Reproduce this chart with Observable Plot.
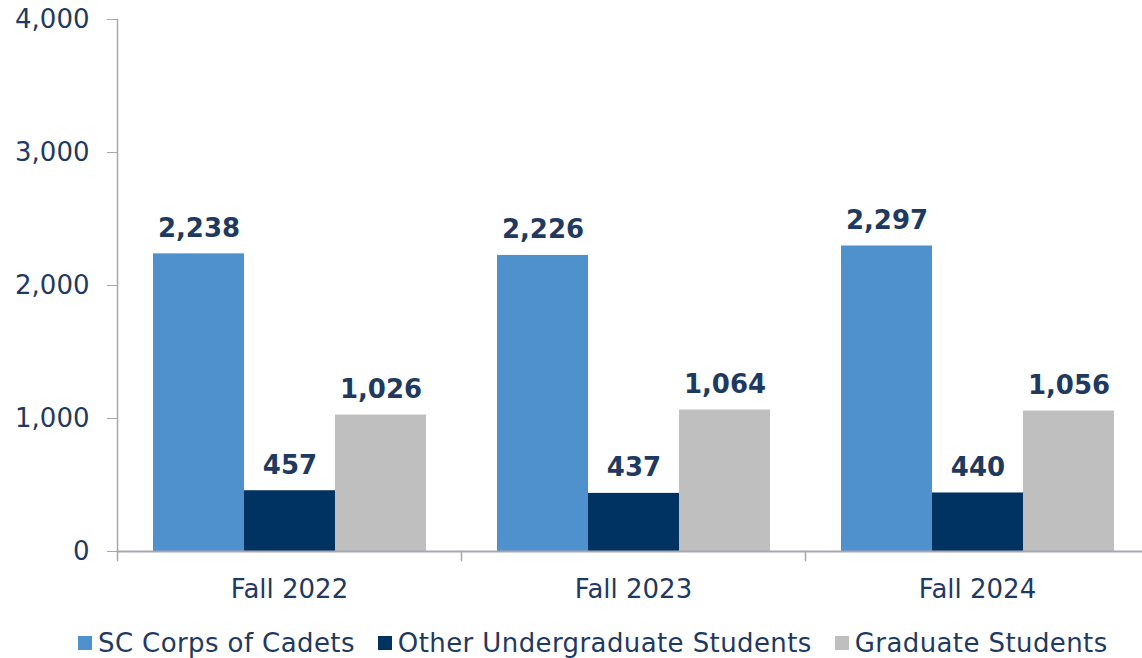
<!DOCTYPE html>
<html>
<head>
<meta charset="utf-8">
<script src="https://cdn.jsdelivr.net/npm/d3@7"></script>
<script src="https://cdn.jsdelivr.net/npm/@observablehq/plot@0.6"></script>
<style>
  html, body { margin: 0; padding: 0; background: #ffffff; overflow: hidden; }
  #chart { width: 1142px; overflow: hidden; }
  #chart svg { max-width: none !important; }
  .legend { display: flex; align-items: center; height: 66px; padding-left: 78px;
            font-family: "DejaVu Sans", Verdana, sans-serif; font-size: 26px; letter-spacing: 0.4px;
            color: #1F3A60; white-space: nowrap; }
  .legend .item { display: flex; align-items: center; margin-right: 23px; }
  .legend .sw { width: 14px; height: 14px; margin-right: 6px; display: inline-block; }
</style>
</head>
<body>
<div id="chart"></div>
<script>
const groups = ["Fall 2022", "Fall 2023", "Fall 2024"];
const series = ["SC Corps of Cadets", "Other Undergraduate Students", "Graduate Students"];
const cadets = [2238, 2226, 2297];
const otherUndergrad = [457, 437, 440];
const graduate = [1026, 1064, 1056];
const seriesColors = ["#4F91CD", "#003262", "#BFBFBF"];
const yTicks = [0, 1000, 2000, 3000, 4000];

const valuesBySeries = [cadets, otherUndergrad, graduate];
const data = [];
groups.forEach((g, gi) => {
  series.forEach((s, si) => {
    data.push({group: g, series: s, value: valuesBySeries[si][gi]});
  });
});

const textColor = "#1F3A60";
const axisGray = "#A7A7B2";
const fmt = d3.format(",");

const plot = Plot.plot({
  width: 1149,
  height: 610,
  marginLeft: 117,
  marginRight: 0,
  marginTop: 19,
  marginBottom: 59,
  style: {fontFamily: "DejaVu Sans, Verdana, sans-serif", fontSize: "26px", color: textColor, background: "white", maxWidth: "none"},
  fx: {domain: groups, padding: 0, label: null},
  x: {domain: series, paddingInner: 0, paddingOuter: 0.38, axis: null},
  y: {domain: [0, 4000], label: null},
  color: {domain: series, range: seriesColors},
  marks: [
    Plot.barY(data, {fx: "group", x: "series", y: "value", fill: "series"}),
    Plot.ruleY([0], {stroke: axisGray, strokeWidth: 2}),
    Plot.frame({anchor: "left", facetAnchor: "left", stroke: axisGray, strokeWidth: 1.5}),
    Plot.frame({anchor: "left", insetTop: 532, insetBottom: -9, stroke: axisGray, strokeWidth: 1.5}),
    Plot.axisY({ticks: yTicks, tickSize: 10, tickPadding: 18, tickFormat: fmt, stroke: axisGray, label: null}),
    Plot.axisFx({anchor: "bottom", tickSize: 0, tickPadding: 28, label: null}),
    Plot.text(data, {fx: "group", x: "series", y: "value", text: d => fmt(d.value),
      dy: -17, lineAnchor: "bottom", fontWeight: "bold", fill: textColor, fontSize: 26})
  ]
});
document.getElementById("chart").appendChild(plot);

const legend = document.createElement("div");
legend.className = "legend";
series.forEach((s, i) => {
  const item = document.createElement("div");
  item.className = "item";
  const sw = document.createElement("span");
  sw.className = "sw";
  sw.style.background = seriesColors[i];
  const label = document.createElement("span");
  label.textContent = s;
  item.appendChild(sw);
  item.appendChild(label);
  legend.appendChild(item);
});
document.getElementById("chart").appendChild(legend);
</script>
</body>
</html>
